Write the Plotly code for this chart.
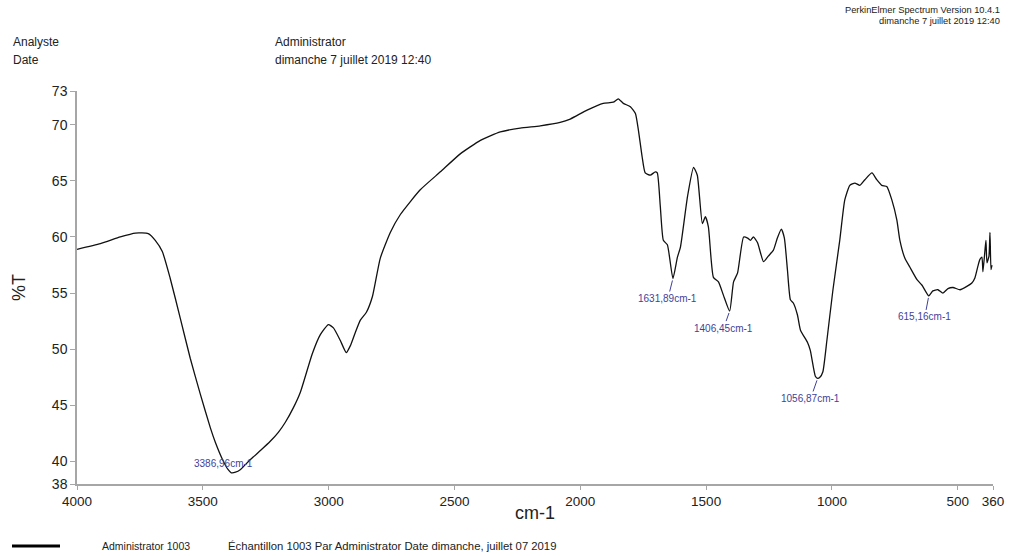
import plotly.graph_objects as go

# Infrared transmission spectrum, sample 1003
wavenumber = [
    4000, 3907, 3828, 3768, 3717, 3689, 3661, 3630, 3590, 3550, 3510, 3470,
    3450, 3420, 3400, 3386.96, 3370, 3350, 3330, 3300, 3270, 3232, 3200, 3172,
    3140, 3112, 3065, 3033, 3001, 2981, 2954, 2930, 2914, 2894, 2874, 2850,
    2826, 2795, 2755, 2715, 2636, 2556, 2477, 2397, 2318, 2239, 2159, 2080,
    2040, 1973, 1909, 1869, 1849, 1829, 1801, 1781, 1769, 1754, 1742, 1722,
    1702, 1694, 1682, 1670, 1654, 1631.89, 1614, 1602, 1574, 1550, 1535, 1515,
    1503, 1491, 1471, 1451, 1431, 1406.45, 1391, 1375, 1351, 1335, 1324, 1312,
    1296, 1284, 1272, 1253, 1233, 1217, 1201, 1189, 1177, 1165, 1153, 1137,
    1125, 1097, 1086, 1066, 1056.87, 1048, 1036, 1020, 996, 969, 949, 929, 909,
    889, 869, 841, 822, 802, 782, 762, 742, 730, 710, 690, 662, 642, 615.16,
    599, 579, 559, 539, 519, 491, 464, 444, 432, 420, 412, 404, 400, 392, 388,
    384, 376, 372, 368, 364,
]
transmittance = [
    58.9, 59.4, 60.0, 60.35, 60.3, 59.7, 58.7, 56.35, 52.8, 49.2, 46.0, 43.0,
    41.7, 40.1, 39.3, 39.0, 39.05, 39.3, 39.75, 40.4, 41.0, 41.8, 42.6, 43.5,
    44.8, 46.2, 49.6, 51.3, 52.2, 51.9, 50.8, 49.7, 50.3, 51.5, 52.6, 53.3,
    54.7, 58.1, 60.4, 62.0, 64.2, 65.8, 67.4, 68.6, 69.35, 69.7, 69.9, 70.2,
    70.5, 71.3, 71.9, 72.0, 72.3, 71.9, 71.6, 71.0, 69.5, 67.1, 65.7, 65.5,
    65.8, 65.7, 62.7, 59.7, 59.3, 56.3, 58.2, 59.1, 63.6, 66.2, 65.5, 61.2,
    61.8, 60.9, 56.4, 56.0, 54.8, 53.4, 56.0, 56.8, 60.0, 59.9, 59.7, 60.0,
    59.5, 58.6, 57.8, 58.3, 58.8, 59.9, 60.7, 59.9, 57.1, 54.4, 54.1, 53.05,
    51.7, 50.6, 49.9, 47.6, 47.4, 47.5, 48.0, 50.8, 55.3, 59.7, 63.3, 64.6, 64.8,
    64.6, 65.1, 65.7, 65.1, 64.6, 64.5, 63.3, 61.5, 59.7, 58.1, 57.3, 56.2, 55.7, 54.75,
    55.2, 55.3, 55.0, 55.4, 55.5, 55.3, 55.6, 55.9, 56.35, 57.4, 58.0, 58.2, 56.9, 58.8, 59.7,
    57.7, 58.3, 60.4, 57.1, 57.5,
]

# Labelled absorption bands (wavenumber, %T at band minimum) and label offsets in px
peak_x = [3386.96, 1631.89, 1406.45, 1056.87, 615.16]
peak_y = [39.0, 56.3, 53.4, 47.4, 54.75]
peak_text = ["3386,96cm-1", "1631,89cm-1", "1406,45cm-1", "1056,87cm-1", "615,16cm-1"]
label_dx = [-8, -5, -6, -7, -4]
label_dy = [-9, 20, 17, 20, 21]

x_ticks = [4000, 3500, 3000, 2500, 2000, 1500, 1000, 500, 360]
y_ticks = [38, 40, 45, 50, 55, 60, 65, 70, 73]

W, H = 1016, 556
L, R, T, B = 77, 993, 91, 484
FONT = "Liberation Sans, Arial, sans-serif"
PEAK_COLOR = "#3f3f9a"
AXIS_COLOR = "#a6a6a6"
TEXT_COLOR = "#222222"


def px(x):
    return (x - L) / (R - L)


def py(y):
    return (B - y) / (B - T)


fig = go.Figure()
fig.add_trace(go.Scatter(
    x=wavenumber, y=transmittance, mode="lines",
    line=dict(color="#111111", width=1.3, shape="spline", smoothing=0.5),
    name="Administrator 1003", showlegend=False, hoverinfo="x+y",
))

annotations = []
for xv, yv, txt, dx, dy in zip(peak_x, peak_y, peak_text, label_dx, label_dy):
    annotations.append(dict(
        x=xv, y=yv, xref="x", yref="y", text=txt,
        showarrow=True, arrowhead=0, arrowwidth=1, arrowcolor=PEAK_COLOR,
        ax=dx, ay=dy, standoff=2,
        font=dict(family=FONT, size=10, color=PEAK_COLOR),
    ))

header = [
    ("Analyste", 11, 42, "left", 12),
    ("Date", 11, 60, "left", 12),
    ("Administrator", 273, 42, "left", 12),
    ("dimanche 7 juillet 2019 12:40", 273, 60, "left", 12),
    ("PerkinElmer Spectrum Version 10.4.1", 1002, 10, "right", 9.3),
    ("dimanche 7 juillet 2019 12:40", 1002, 21, "right", 9.3),
]
for txt, x0, y0, anc, sz in header:
    annotations.append(dict(
        x=px(x0), y=py(y0), xref="paper", yref="paper", text=txt,
        showarrow=False, xanchor=anc, yanchor="middle",
        font=dict(family=FONT, size=sz, color=TEXT_COLOR),
    ))

annotations.append(dict(
    x=px(100), y=py(546), xref="paper", yref="paper", text="Administrator 1003",
    showarrow=False, xanchor="left", yanchor="middle",
    font=dict(family=FONT, size=10.5, color=TEXT_COLOR),
))
annotations.append(dict(
    x=px(226), y=py(546), xref="paper", yref="paper",
    text="Échantillon 1003 Par Administrator Date dimanche, juillet 07 2019",
    showarrow=False, xanchor="left", yanchor="middle",
    font=dict(family=FONT, size=11.3, color=TEXT_COLOR),
))
annotations.append(dict(
    x=px(535), y=py(513), xref="paper", yref="paper", text="cm-1",
    showarrow=False, xanchor="center", yanchor="middle",
    font=dict(family=FONT, size=18, color=TEXT_COLOR),
))

fig.add_shape(type="line", xref="paper", yref="paper",
              x0=px(12), x1=px(60), y0=py(546), y1=py(546),
              line=dict(color="#000000", width=3))

fig.update_layout(
    width=W, height=H, autosize=False,
    margin=dict(l=L, r=W - R, t=T, b=H - B, pad=0),
    paper_bgcolor="white", plot_bgcolor="white",
    showlegend=False,
    annotations=annotations,
    xaxis=dict(
        range=[4000, 360], tickvals=x_ticks, ticktext=[str(v) for v in x_ticks],
        showgrid=False, zeroline=False, showline=True, linecolor=AXIS_COLOR,
        linewidth=1.5, ticks="outside", ticklen=4, tickcolor=AXIS_COLOR,
        tickfont=dict(family=FONT, size=13.5, color=TEXT_COLOR),
    ),
    yaxis=dict(
        range=[38, 73], tickvals=y_ticks, ticktext=[str(v) for v in y_ticks],
        showgrid=False, zeroline=False, showline=True, linecolor=AXIS_COLOR,
        linewidth=1.5, ticks="outside", ticklen=5, tickcolor=AXIS_COLOR,
        tickfont=dict(family=FONT, size=14, color=TEXT_COLOR),
        title=dict(text="%T", font=dict(family=FONT, size=18, color=TEXT_COLOR),
                   standoff=22),
    ),
)

fig.write_html("out.html")
